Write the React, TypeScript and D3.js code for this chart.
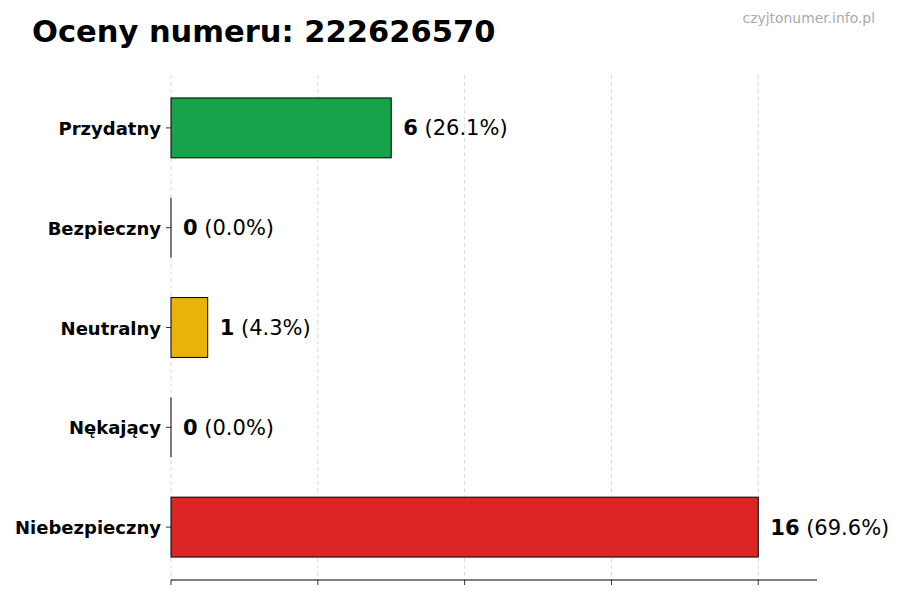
import React from "react";
import * as d3 from "d3";

const categories = ["Przydatny", "Bezpieczny", "Neutralny", "Nękający", "Niebezpieczny"];
const counts = [6, 0, 1, 0, 16];
const colors = ["#16a34a", "#9ca3af", "#eab308", "#f97316", "#dc2626"];
const xTicks = [0, 4, 8, 12, 16];
const titleText = "Oceny numeru: 222626570";
const watermark = "czyjtonumer.info.pl";

const W = 900;
const H = 600;
const FONT = "'DejaVu Sans', sans-serif";

export default function App() {
  const total = d3.sum(counts);
  const left = 171;
  const right = 817;
  const top = 75;
  const bottom = 580;
  const x = d3.scaleLinear().domain([0, 16 * 1.1]).range([left, right]);
  const y = d3.scaleLinear().domain([-0.53, categories.length - 1 + 0.53]).range([top, bottom]);
  const barH = y(0.3) - y(-0.3);

  return (
    <svg width={W} height={H} style={{ position: "absolute", left: 0, top: 0, background: "#fff" }}>
      <text x={32} y={41.5} fontFamily={FONT} fontWeight="bold" fontSize={30.5} fill="#000">
        {titleText}
      </text>
      <text x={875} y={22.5} textAnchor="end" fontFamily={FONT} fontSize={13.9} fill="#aaaaaa">
        {watermark}
      </text>
      {xTicks.map((t) => (
        <line key={"g" + t} x1={x(t)} x2={x(t)} y1={top} y2={bottom} stroke="#d0d0d0" strokeWidth={0.8} strokeDasharray="4,3" />
      ))}
      {categories.map((c, i) => {
        const v = counts[i];
        const yc = y(i);
        return (
          <g key={c}>
            {v > 0 ? (
              <rect x={x(0)} y={yc - barH / 2} width={x(v) - x(0)} height={barH} fill={colors[i]} stroke="#000" strokeWidth={1} />
            ) : (
              <line x1={x(0)} x2={x(0)} y1={yc - barH / 2} y2={yc + barH / 2} stroke="#000" strokeWidth={1} />
            )}
            <line x1={left - 5} x2={left} y1={yc} y2={yc} stroke="#000" strokeWidth={0.8} />
            <text x={left - 10} y={yc + 7} textAnchor="end" fontFamily={FONT} fontWeight="bold" fontSize={18} fill="#000">
              {c}
            </text>
            <text x={x(v) + 12} y={yc + 7.5} fontFamily={FONT} fontSize={21} fill="#000">
              <tspan fontWeight="bold">{v}</tspan>
              <tspan>{" (" + ((v / total) * 100).toFixed(1) + "%)"}</tspan>
            </text>
          </g>
        );
      })}
      <line x1={left} x2={right} y1={bottom} y2={bottom} stroke="#000" strokeWidth={1} />
      {xTicks.map((t) => (
        <line key={"t" + t} x1={x(t)} x2={x(t)} y1={bottom} y2={bottom + 5} stroke="#000" strokeWidth={0.8} />
      ))}
    </svg>
  );
}
